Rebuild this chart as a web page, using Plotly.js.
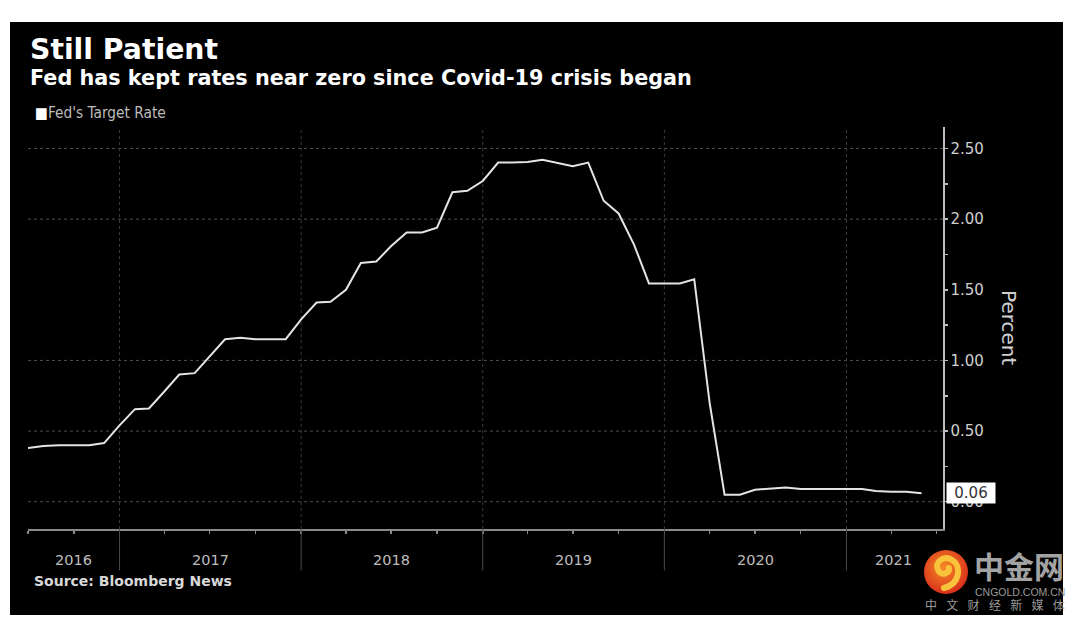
<!DOCTYPE html>
<html><head><meta charset="utf-8">
<script src="https://cdn.plot.ly/plotly-3.0.1.min.js"></script>
<style>
html,body{margin:0;padding:0;background:#fff;width:1080px;height:622px;overflow:hidden;}
#chart{position:absolute;left:10px;top:22px;width:1053px;height:593px;background:#000;}
#wm{position:absolute;left:0;top:0;width:1080px;height:622px;pointer-events:none;}
.cj{position:absolute;font-family:"Noto Sans CJK SC",sans-serif;color:#a3a3a3;white-space:nowrap;line-height:1;}
</style></head><body>
<div id="chart"></div>
<div id="wm">
  <svg width="1080" height="622" style="position:absolute;left:0;top:0">
    <defs>
      <radialGradient id="rg" cx="45%" cy="40%" r="60%">
        <stop offset="0%" stop-color="#f58a24"/>
        <stop offset="100%" stop-color="#d9301c"/>
      </radialGradient>
    </defs>
    <circle cx="946" cy="572" r="22" fill="url(#rg)"/>
    <path d="M944 588 C960 584 962 566 952 560 C944 555 934 562 938 570 C941 576 950 574 949 568" fill="none" stroke="#f9c43c" stroke-width="6" stroke-linecap="round"/>
  </svg>
  <div class="cj" style="left:974px;top:550px;font-size:30px;font-weight:700;">中金网</div>
  <div class="cj" style="left:975px;top:587px;font-size:10.5px;font-family:'Liberation Sans',sans-serif;color:#9a9a9a;">CNGOLD.COM.CN</div>
  <div class="cj" style="left:925px;top:599px;font-size:12px;letter-spacing:9.3px;color:#9a9a9a;">中文财经新媒体</div>
</div>
<script>
// ---- data ----
const months = ['2016-07-01','2016-08-01','2016-09-01','2016-10-01','2016-11-01','2016-12-01',
  '2017-01-01','2017-02-01','2017-03-01','2017-04-01','2017-05-01','2017-06-01',
  '2017-07-01','2017-08-01','2017-09-01','2017-10-01','2017-11-01','2017-12-01',
  '2018-01-01','2018-02-01','2018-03-01','2018-04-01','2018-05-01','2018-06-01',
  '2018-07-01','2018-08-01','2018-09-01','2018-10-01','2018-11-01','2018-12-01',
  '2019-01-01','2019-02-01','2019-03-01','2019-04-01','2019-05-01','2019-06-01',
  '2019-07-01','2019-08-01','2019-09-01','2019-10-01','2019-11-01','2019-12-01',
  '2020-01-01','2020-02-01','2020-03-01','2020-04-01','2020-05-01','2020-06-01',
  '2020-07-01','2020-08-01','2020-09-01','2020-10-01','2020-11-01','2020-12-01',
  '2021-01-01','2021-02-01','2021-03-01','2021-04-01','2021-05-01','2021-06-01'];
const fedTargetRate = [0.38,0.395,0.40,0.40,0.40,0.415,
  0.54,0.655,0.66,0.78,0.90,0.91,
  1.03,1.15,1.16,1.15,1.15,1.15,
  1.29,1.41,1.415,1.50,1.69,1.70,
  1.81,1.905,1.905,1.94,2.19,2.20,
  2.27,2.40,2.40,2.405,2.42,2.395,
  2.375,2.40,2.13,2.04,1.82,1.545,
  1.545,1.545,1.575,0.70,0.05,0.05,
  0.085,0.095,0.10,0.09,0.09,0.09,
  0.09,0.09,0.076,0.07,0.07,0.06];
const yearBoundaries = ['2017-01-01','2018-01-01','2019-01-01','2020-01-01','2021-01-01'];
const yearLabels = ['2016','2017','2018','2019','2020','2021'];
const yearLabelDates = ['2016-10-01','2017-07-02','2018-07-02','2019-07-02','2020-07-02','2021-04-06'];
const quarterTicks = ['2016-07-01','2016-10-01','2017-01-01','2017-04-01','2017-07-01','2017-10-01',
  '2018-01-01','2018-04-01','2018-07-01','2018-10-01','2019-01-01','2019-04-01','2019-07-01',
  '2019-10-01','2020-01-01','2020-04-01','2020-07-01','2020-10-01','2021-01-01','2021-04-01','2021-07-01'];
const yTickVals = [0,0.25,0.5,0.75,1.0,1.25,1.5,1.75,2.0,2.25,2.5];
const yTickText = ['0.00','','0.50','','1.00','','1.50','','2.00','','2.50'];
const gridValues = [0,0.5,1.0,2.0,2.5];
const titleText = 'Still Patient';
const subtitleText = 'Fed has kept rates near zero since Covid-19 crisis began';
const legendText = "Fed's Target Rate";
const sourceText = 'Source: Bloomberg News';
const yAxisTitle = 'Percent';

// ---- chart ----
const lastVal = fedTargetRate[fedTargetRate.length - 1];
const shapes = [];
gridValues.forEach(v => shapes.push({type:'line', xref:'paper', yref:'y', x0:0, x1:1, y0:v, y1:v,
  line:{color:'#4e4e4e', width:1, dash:'dot'}, layer:'below'}));
yearBoundaries.forEach(d => {
  shapes.push({type:'line', xref:'x', yref:'paper', x0:d, x1:d, y0:0, y1:1,
    line:{color:'#3c3c3c', width:1, dash:'dot'}, layer:'below'});
  shapes.push({type:'line', xref:'x', yref:'paper', x0:d, x1:d, y0:-0.103, y1:0,
    line:{color:'#4a4a4a', width:1}});
});

const annotations = [
  {xref:'paper', yref:'paper', x:0, y:1.194, xanchor:'left', yanchor:'middle', showarrow:false,
   text:'<b>'+titleText+'</b>', font:{family:'DejaVu Sans', size:28.3, color:'#ffffff'}},
  {xref:'paper', yref:'paper', x:0, y:1.122, xanchor:'left', yanchor:'middle', showarrow:false,
   text:'<b>'+subtitleText+'</b>', font:{family:'DejaVu Sans', size:20.75, color:'#ffffff'}},
  {xref:'paper', yref:'paper', x:0.005, y:1.035, xanchor:'left', yanchor:'middle', showarrow:false,
   text:'<span style="color:#ffffff">■</span>'+legendText, font:{family:'DejaVu Sans Condensed, DejaVu Sans', size:15.3, color:'#bdbdbd'}},
  {xref:'paper', yref:'paper', x:0.004, y:-0.13, xanchor:'left', yanchor:'middle', showarrow:false,
   text:'<b>'+sourceText+'</b>', font:{family:'DejaVu Sans', size:14, color:'#d8d8d8'}},
  {xref:'paper', yref:'paper', x:1.072, y:0.5, xanchor:'center', yanchor:'middle', showarrow:false,
   text:yAxisTitle, textangle:90, font:{family:'DejaVu Sans', size:20, color:'#cfcfcf'}},
  {xref:'paper', yref:'y', x:1, y:lastVal, xanchor:'left', yanchor:'middle', xshift:3, showarrow:false,
   text:lastVal.toFixed(2), bgcolor:'#ffffff', borderpad:1, width:46,
   font:{family:'DejaVu Sans', size:15, color:'#333333'}}
];
yearLabels.forEach((t,i) => annotations.push({xref:'x', yref:'paper', x:yearLabelDates[i], y:-0.077,
  xanchor:'center', yanchor:'middle', showarrow:false, text:t,
  font:{family:'DejaVu Sans', size:14.5, color:'#bdbdbd'}}));

const trace = {x:months, y:fedTargetRate, type:'scatter', mode:'lines',
  line:{color:'#e4e4e4', width:2}, hoverinfo:'skip', cliponaxis:false};

const layout = {
  width:1053, height:593,
  paper_bgcolor:'#000000', plot_bgcolor:'#000000',
  margin:{l:18, r:120, t:105, b:86},
  showlegend:false,
  xaxis:{type:'date', range:['2016-07-01','2021-07-14'], showgrid:false, zeroline:false,
    tickmode:'array', tickvals:quarterTicks, showticklabels:false,
    ticks:'outside', ticklen:3, tickwidth:1.5, tickcolor:'#8a8a8a',
    showline:true, linecolor:'#8a8a8a', linewidth:2},
  yaxis:{side:'right', range:[-0.193, 2.652], showgrid:false, zeroline:false,
    tickmode:'array', tickvals:yTickVals, ticktext:yTickText,
    ticks:'outside', ticklen:3, tickwidth:1.5, tickcolor:'#bdbdbd',
    showline:true, linecolor:'#bdbdbd', linewidth:1.5,
    tickfont:{family:'DejaVu Sans', size:15, color:'#cfcfcf'}},
  shapes:shapes, annotations:annotations
};
Plotly.newPlot('chart', [trace], layout, {displayModeBar:false, staticPlot:true});
</script>
</body></html>
